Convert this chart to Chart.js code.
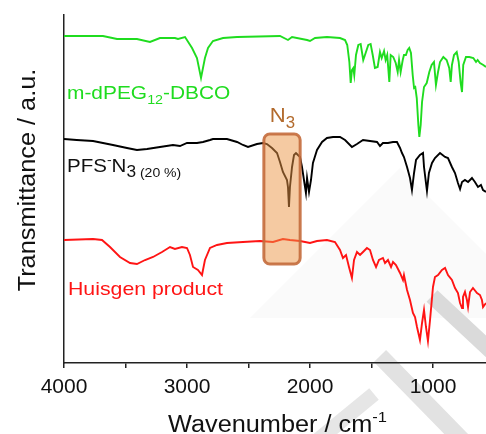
<!DOCTYPE html>
<html>
<head>
<meta charset="utf-8">
<script src="https://cdn.jsdelivr.net/npm/chart.js@4.4.1/dist/chart.umd.min.js"></script>
<style>
  html, body { margin: 0; padding: 0; background: #ffffff; }
</style>
</head>
<body>
<canvas id="espectroIR" width="486" height="434"></canvas>
<script>
// === ESPECTROS FTIR (número de onda em cm-1, transmitância em u.a. já empilhada) ===
const dbcoWn = [4000, 3683, 3569, 3407, 3301, 3220, 3098, 3073, 3016, 2959, 2919, 2886, 2854, 2829, 2789, 2707, 2593, 2244, 2179, 2146, 2024, 2000, 1959, 1862, 1756, 1715, 1697, 1680, 1669, 1659, 1648, 1640, 1626, 1607, 1588, 1567, 1553, 1526, 1507, 1490, 1472, 1450, 1431, 1417, 1398, 1385, 1372, 1355, 1344, 1323, 1303, 1287, 1276, 1263, 1246, 1236, 1220, 1206, 1193, 1179, 1165, 1154, 1144, 1132, 1119, 1111, 1100, 1089, 1073, 1051, 1030, 1011, 992, 976, 959, 943, 916, 889, 868, 856, 846, 829, 807, 791, 775, 764, 754, 732, 705, 672, 650, 637, 618, 591, 569];
const dbcoT = [327, 327, 324, 324, 321, 325, 325, 324, 326, 315, 305, 285, 305, 315, 322, 325, 326, 327, 323, 326, 323, 322, 325, 326, 325, 323, 318, 301, 280, 293, 295, 288, 308, 318, 319, 303, 308, 318, 319, 308, 295, 296, 311, 305, 312, 303, 308, 281, 308, 306, 300, 291, 303, 291, 303, 308, 308, 313, 315, 310, 288, 275, 276, 265, 238, 226, 238, 261, 276, 280, 291, 298, 301, 278, 291, 301, 306, 303, 295, 281, 298, 308, 311, 301, 280, 271, 298, 306, 306, 305, 301, 303, 300, 298, 296];

const pfsWn = [4000, 3897, 3764, 3683, 3602, 3488, 3407, 3325, 3220, 3114, 3057, 3000, 2919, 2870, 2813, 2789, 2675, 2593, 2545, 2504, 2431, 2382, 2350, 2309, 2268, 2244, 2220, 2187, 2179, 2171, 2163, 2146, 2130, 2114, 2098, 2081, 2065, 2049, 2033, 2024, 2008, 1992, 1976, 1943, 1902, 1862, 1813, 1756, 1715, 1659, 1618, 1569, 1512, 1455, 1431, 1407, 1366, 1325, 1293, 1268, 1252, 1236, 1211, 1187, 1171, 1154, 1138, 1106, 1081, 1073, 1049, 1033, 1008, 984, 943, 902, 878, 846, 821, 797, 780, 764, 740, 715, 683, 659, 634, 610, 593, 569];
const pfsT = [224, 223, 222, 220, 218, 215, 213, 214, 216, 218, 217, 220, 220, 221, 223, 224, 224, 221, 218, 216, 219, 220, 219, 215, 210, 201, 191, 183, 176, 156, 176, 196, 208, 210, 208, 206, 196, 183, 170, 185, 171, 183, 200, 213, 221, 225, 226, 226, 223, 216, 219, 223, 222, 221, 217, 220, 220, 221, 221, 215, 210, 206, 196, 185, 173, 190, 203, 208, 210, 196, 172, 190, 200, 205, 210, 206, 205, 196, 190, 180, 174, 181, 183, 181, 185, 181, 176, 178, 173, 171];

const huisgenWn = [4000, 3764, 3691, 3626, 3545, 3463, 3407, 3341, 3276, 3203, 3138, 3098, 3041, 3000, 2976, 2951, 2911, 2878, 2854, 2813, 2756, 2675, 2545, 2407, 2301, 2220, 2163, 2081, 2000, 1943, 1862, 1797, 1756, 1732, 1707, 1683, 1659, 1642, 1618, 1593, 1569, 1537, 1512, 1488, 1463, 1439, 1407, 1390, 1366, 1341, 1325, 1301, 1268, 1244, 1236, 1211, 1187, 1163, 1146, 1130, 1106, 1089, 1073, 1057, 1041, 1024, 1000, 984, 959, 927, 902, 878, 846, 821, 797, 780, 764, 756, 740, 724, 715, 699, 675, 642, 618, 602, 593, 569];
const huisgenT = [123, 124, 123, 116, 106, 100, 99, 103, 106, 111, 116, 114, 116, 115, 108, 96, 93, 88, 103, 115, 118, 120, 121, 122, 121, 124, 123, 122, 120, 122, 123, 121, 113, 105, 108, 96, 85, 103, 111, 108, 111, 115, 113, 103, 96, 103, 105, 100, 103, 96, 101, 98, 90, 83, 88, 73, 63, 50, 46, 36, 23, 40, 53, 36, 22, 43, 76, 86, 88, 93, 95, 88, 83, 75, 70, 60, 55, 66, 71, 63, 56, 71, 75, 70, 68, 63, 56, 60];

// eixo x
const ticksX = [4000, 3500, 3000, 2500, 2000, 1500, 1000];
const rotulosX = [4000, 3000, 2000, 1000];
// faixa do estiramento da azida (cm-1) e altura do destaque (u.a.)
const faixaN3 = [2375, 2080];
const alturaN3 = [99, 229];

const FONTE = '"Liberation Sans", Arial, sans-serif';

function pares(xs, ys) {
    return xs.map((x, i) => ({ x: x, y: ys[i] }));
}

// escreve texto com partes (subscrito / sobrescrito) e leve estiramento horizontal
function escrever(ctx, partes, x, y, cor, esticar) {
    ctx.save();
    ctx.translate(x, y);
    ctx.scale(esticar, 1);
    ctx.fillStyle = cor;
    ctx.textBaseline = 'alphabetic';
    ctx.textAlign = 'left';
    let cx = 0;
    partes.forEach(p => {
        ctx.font = p.tam + 'px ' + FONTE;
        ctx.fillText(p.t, cx, p.dy || 0);
        cx += ctx.measureText(p.t).width;
    });
    ctx.restore();
}

// faixa cinza diagonal (marca d'água da figura)
function faixa(ctx, xa, ya, xb, yb, largura, cor) {
    ctx.beginPath();
    ctx.moveTo(xa, ya);
    ctx.lineTo(xb, yb);
    ctx.lineWidth = largura;
    ctx.strokeStyle = cor;
    ctx.lineCap = 'butt';
    ctx.stroke();
}

const anotacoes = {
    id: 'anotacoes',
    beforeDraw(chart) {
        const ctx = chart.ctx;
        ctx.save();
        // triângulo bem claro ao fundo
        ctx.beginPath();
        ctx.moveTo(400, 168);
        ctx.lineTo(250, 318);
        ctx.lineTo(486, 318);
        ctx.lineTo(486, 254);
        ctx.closePath();
        ctx.fillStyle = '#fafafa';
        ctx.fill();
        faixa(ctx, 432, 296, 492, 352, 16, '#dadada');
        faixa(ctx, 380, 356, 462, 440, 17, '#e2e2e2');
        faixa(ctx, 374, 394, 318, 440, 15, '#e6e6e6');
        ctx.restore();
    },
    afterDatasetsDraw(chart) {
        const ctx = chart.ctx;
        const sx = chart.scales.x, sy = chart.scales.y;
        // 1. Caixa laranja da banda N3
        const x1 = sx.getPixelForValue(faixaN3[0]);
        const x2 = sx.getPixelForValue(faixaN3[1]);
        const y1 = sy.getPixelForValue(alturaN3[1]);
        const y2 = sy.getPixelForValue(alturaN3[0]);
        ctx.save();
        ctx.beginPath();
        ctx.roundRect(x1, y1, x2 - x1, y2 - y1, 6);
        ctx.fillStyle = 'rgba(236, 150, 70, 0.5)';
        ctx.fill();
        ctx.lineWidth = 3;
        ctx.strokeStyle = 'rgba(196, 108, 60, 0.9)';
        ctx.stroke();
        ctx.restore();

        escrever(ctx, [{ t: 'N', tam: 21 }, { t: '3', tam: 16, dy: 6 }], x1 + 6, y1 - 12, '#b26a2c', 1.05);
    },
    afterDraw(chart) {
        const ctx = chart.ctx;
        // 2. Nomes das amostras
        escrever(ctx, [{ t: 'm-dPEG', tam: 19 }, { t: '12', tam: 13, dy: 5 }, { t: '-DBCO', tam: 19 }], 67, 99, '#1fdc1f', 1.1);
        escrever(ctx, [{ t: 'PFS', tam: 19 }, { t: '-', tam: 13, dy: -8 }, { t: 'N', tam: 19 }, { t: '3', tam: 16, dy: 5 }, { t: ' (20 %)', tam: 13, dy: 5 }], 67, 172, '#111111', 1.08);
        escrever(ctx, [{ t: 'Huisgen product', tam: 19 }], 68, 295, '#ff1414', 1.12);

        // 3. Títulos dos eixos
        escrever(ctx, [{ t: 'Wavenumber / cm', tam: 23 }, { t: '-1', tam: 15, dy: -10 }], 168, 432, '#111111', 1.1);
        ctx.save();
        ctx.translate(35, 180);
        ctx.rotate(-Math.PI / 2);
        ctx.scale(1.1, 1);
        ctx.font = '23px ' + FONTE;
        ctx.fillStyle = '#111111';
        ctx.textAlign = 'center';
        ctx.fillText('Transmittance / a.u.', 0, 0);
        ctx.restore();
    }
};

new Chart(document.getElementById('espectroIR'), {
    type: 'line',
    data: {
        datasets: [
            { label: 'm-dPEG12-DBCO', data: pares(dbcoWn, dbcoT), borderColor: '#1fdc1f', borderWidth: 1.9, pointRadius: 0, tension: 0 },
            { label: 'PFS-N3 (20 %)', data: pares(pfsWn, pfsT), borderColor: '#000000', borderWidth: 1.9, pointRadius: 0, tension: 0 },
            { label: 'Huisgen product', data: pares(huisgenWn, huisgenT), borderColor: '#ff1414', borderWidth: 1.9, pointRadius: 0, tension: 0 }
        ]
    },
    options: {
        responsive: false,
        animation: false,
        layout: { padding: { top: 15, right: 0, bottom: 0, left: 0 } },
        plugins: { legend: { display: false }, tooltip: { enabled: false } },
        scales: {
            x: {
                type: 'linear',
                reverse: true,
                min: 569,
                max: 4000,
                afterBuildTicks: s => { s.ticks = ticksX.map(v => ({ value: v })); },
                afterFit: s => { s.height = 71; },
                grid: { drawOnChartArea: false, drawTicks: true, tickLength: 5, color: '#222222', lineWidth: 1.5 },
                border: { color: '#222222', width: 1.5 },
                ticks: {
                    color: '#111111',
                    font: { size: 21, family: FONTE },
                    padding: 7,
                    maxRotation: 0,
                    autoSkip: false,
                    callback: v => rotulosX.includes(v) ? String(v) : ''
                }
            },
            y: {
                min: 0,
                max: 348,
                afterFit: s => { s.width = 64; },
                grid: { drawOnChartArea: false, drawTicks: false },
                border: { color: '#222222', width: 1.5 },
                ticks: { display: false }
            }
        }
    },
    plugins: [anotacoes]
});
</script>
</body>
</html>
